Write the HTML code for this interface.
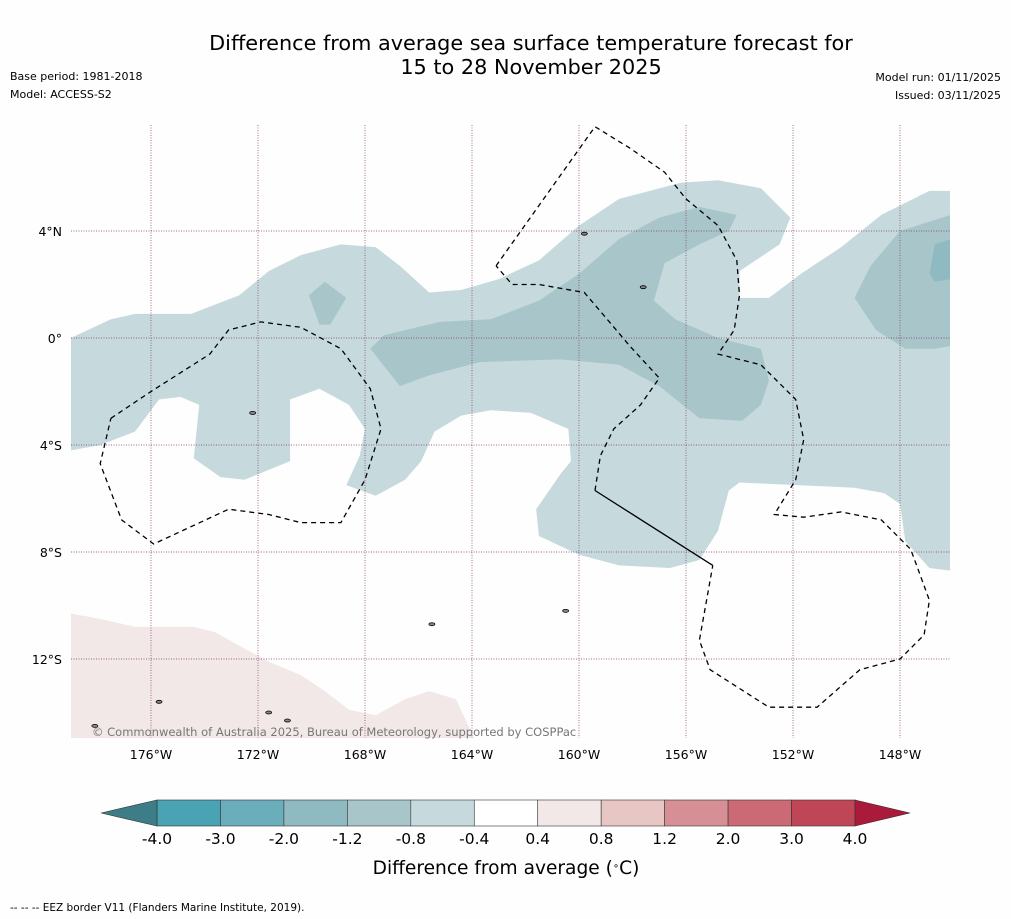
<!DOCTYPE html>
<html><head><meta charset="utf-8"><style>
body{margin:0;background:#fefefe;font-family:"DejaVu Sans",sans-serif;}
svg{display:block}
</style></head><body>
<svg id="chart" width="1011" height="919" font-family="DejaVu Sans, sans-serif">
<rect width="1011" height="919" fill="#fefefe"/>
<text x="531" y="50" font-size="20.8" text-anchor="middle">Difference from average sea surface temperature forecast for</text>
<text x="531" y="74" font-size="20.8" text-anchor="middle">15 to 28 November 2025</text>
<text x="10" y="80" font-size="11">Base period: 1981-2018</text>
<text x="10" y="98" font-size="11">Model: ACCESS-S2</text>
<text x="1001" y="81" font-size="11" text-anchor="end">Model run: 01/11/2025</text>
<text x="1001" y="99" font-size="11" text-anchor="end">Issued: 03/11/2025</text>
<g id="map"></g>
<g id="cbar"></g>
<text x="506" y="874" font-size="18.6" text-anchor="middle">Difference from average (<tspan baseline-shift="super" font-size="10">∘</tspan>C)</text>
<text x="10" y="911" font-size="10.5">--  --  -- EEZ border V11 (Flanders Marine Institute, 2019).</text>
</svg>
<script>
const lonTicks=[-176,-172,-168,-164,-160,-156,-152,-148];
const latTicks=[4,0,-4,-8,-12];
const levels=[-4.0,-3.0,-2.0,-1.2,-0.8,-0.4,0.4,0.8,1.2,2.0,3.0,4.0];
const levelColors=["#4aa3b3","#6aaebb","#8fbac2","#a8c6ca","#c6dadd","#ffffff","#f3e8e8","#e8c6c3","#d68f95","#cb6a75","#bf4657"];
const extendColors=["#3c7d87","#ab1a3b"];
const shapeLight=[[-179,0],[-177.5,0.7],[-176.6,0.9],[-174.5,0.9],[-172.7,1.6],[-171.6,2.5],[-170.4,3.1],[-168.9,3.5],[-167.6,3.4],[-166.7,2.7],[-165.6,1.7],[-164.4,1.8],[-163,2.2],[-161.5,2.9],[-160,4.2],[-158.5,5.2],[-156.2,5.8],[-154.8,5.9],[-153.2,5.6],[-152.1,4.5],[-152.5,3.5],[-154,2.5],[-154,1.5],[-152.9,1.5],[-151.7,2.4],[-150.2,3.4],[-148.7,4.6],[-146.9,5.5],[-146.1,5.5],[-146.1,-8.7],[-146.9,-8.6],[-147.8,-7.6],[-148,-6.2],[-148.6,-5.8],[-149.7,-5.6],[-154,-5.4],[-154.4,-5.7],[-154.8,-7.2],[-155.5,-8.3],[-156.6,-8.6],[-158.5,-8.5],[-160,-8.1],[-161.5,-7.4],[-161.6,-6.4],[-160.7,-5.1],[-160.3,-4.6],[-160.4,-3.4],[-161.8,-2.8],[-163.3,-2.7],[-164.4,-2.9],[-165.4,-3.5],[-165.9,-4.6],[-166.5,-5.3],[-167.6,-5.9],[-168.7,-5.5],[-168.2,-4.4],[-168,-3.4],[-168.6,-2.5],[-169.7,-1.9],[-170.8,-2.3],[-170.8,-4.6],[-172.5,-5.3],[-173.4,-5.2],[-174.4,-4.5],[-174.2,-2.5],[-174.9,-2.2],[-175.7,-2.3],[-176.6,-3.5],[-177.9,-4.0],[-179,-4.2]];
const shapeMid=[[-167.8,-0.4],[-167.3,0.1],[-165.2,0.6],[-163.3,0.7],[-161.5,1.4],[-160,2.4],[-158.5,3.7],[-157,4.5],[-155.5,4.9],[-154.1,4.6],[-154.4,4.0],[-155.5,3.5],[-156.8,2.8],[-157.2,1.4],[-156.4,0.7],[-154.8,0],[-153.2,-0.4],[-152.9,-1.6],[-153.2,-2.5],[-153.9,-3.1],[-155.5,-3.0],[-157,-1.8],[-158.5,-1.0],[-160.7,-0.8],[-163.7,-0.9],[-165.6,-1.4],[-166.7,-1.8]];
const shapeMid2=[[-170.1,1.6],[-169.5,2.1],[-168.7,1.5],[-169.3,0.5],[-169.7,0.5]];
const shapeMid3=[[-149.7,1.5],[-149.1,2.7],[-148,4.0],[-146.1,4.6],[-146.1,-0.3],[-146.7,-0.4],[-147.8,-0.4],[-148.9,0.3]];
const shapeDark=[[-146.9,2.4],[-146.7,3.5],[-146.1,3.7],[-146.1,2.2],[-146.7,2.1]];
const shapePink=[[-179,-10.3],[-177.9,-10.5],[-176.6,-10.8],[-174.4,-10.8],[-173.6,-11.0],[-172.7,-11.5],[-171.6,-12.1],[-170.4,-12.6],[-169.5,-13.2],[-168.6,-13.9],[-167.6,-14.1],[-166.5,-13.5],[-165.6,-13.2],[-164.6,-13.5],[-163.9,-15],[-179,-15]];
const eezLeft=[[-177.5,-3.0],[-176,-2.0],[-173.8,-0.6],[-173.1,0.3],[-171.9,0.6],[-170.4,0.4],[-168.9,-0.4],[-167.8,-1.9],[-167.4,-3.4],[-168,-5.3],[-168.9,-6.9],[-170.4,-6.9],[-171.6,-6.6],[-173.1,-6.4],[-175.9,-7.7],[-177.1,-6.8],[-177.9,-4.7],[-177.5,-3.0]];
const eezBig=[[-163.1,2.7],[-159.4,7.9],[-158.1,7.1],[-156.8,6.2],[-156,5.2],[-154.8,4.2],[-154.1,2.9],[-154,1.6],[-154.2,0.3],[-154.8,-0.6],[-153.2,-1.0],[-151.9,-2.3],[-151.6,-3.8],[-151.9,-5.3],[-152.7,-6.6],[-151.6,-6.7],[-150.2,-6.5],[-148.7,-6.8],[-147.6,-7.9],[-146.9,-9.8],[-147.1,-11.1],[-148,-12.0],[-149.5,-12.4],[-151.1,-13.8],[-152.9,-13.8],[-155.1,-12.4],[-155.5,-11.3],[-155,-8.5]];
const eezSolid=[[-155,-8.5],[-159.4,-5.7]];
const eezBig2=[[-159.4,-5.7],[-159.2,-4.4],[-158.7,-3.4],[-157.7,-2.5],[-157,-1.5],[-158.1,-0.3],[-159.2,1.0],[-159.8,1.7],[-161.5,2.0],[-162.5,2.0],[-163.1,2.7]];
const islands=[[-171.6,-14.0],[-170.9,-14.3],[-175.7,-13.6],[-178.1,-14.5],[-172.2,-2.8],[-157.6,1.9],[-159.8,3.9],[-160.5,-10.2],[-165.5,-10.7]];

const NS="http://www.w3.org/2000/svg";
const x0=151,kx=26.75,y0=338;
const X=lon=>x0+(lon+176)*kx;
const Y=lat=>y0-lat*kx;
const map=document.getElementById('map');
function mk(t,a,p){const e=document.createElementNS(NS,t);for(const k in a)e.setAttribute(k,a[k]);(p||map).appendChild(e);return e;}
const pts=s=>s.map(p=>X(p[0]).toFixed(1)+','+Y(p[1]).toFixed(1)).join(' ');
const defs=mk('defs',{});
const cp=mk('clipPath',{id:'mc'},defs);mk('rect',{x:71,y:125,width:879,height:613},cp);
const g=mk('g',{'clip-path':'url(#mc)'});
function poly(s,fill,name){const e=mk('polygon',{points:pts(s),fill:fill},g);

}
poly(shapeLight,levelColors[4],'anomaly-region-light');
poly(shapeMid,levelColors[3],'anomaly-region-mid');
poly(shapeMid2,levelColors[3],'anomaly-region-mid-small');
poly(shapeMid3,levelColors[3],'anomaly-region-mid-east');
poly(shapeDark,levelColors[2],'anomaly-region-dark');
poly(shapePink,levelColors[6],'anomaly-region-warm');
lonTicks.forEach(l=>{const e=mk('line',{x1:X(l),x2:X(l),y1:125,y2:738,stroke:'#7a3a5a','stroke-width':0.7,'stroke-dasharray':'1,1.5'},g);


const t=mk('text',{x:X(l),y:759,'font-size':12.5,'text-anchor':'middle'});t.textContent=(-l)+'°W';

});
latTicks.forEach(l=>{const e=mk('line',{x1:71,x2:950,y1:Y(l),y2:Y(l),stroke:'#7a3a5a','stroke-width':0.7,'stroke-dasharray':'1,1.5'},g);


const t=mk('text',{x:62,y:Y(l)+5,'font-size':12.5,'text-anchor':'end'});t.textContent=l===0?'0°':Math.abs(l)+'°'+(l>0?'N':'S');

});
function line(s,dash,name){const e=mk('polyline',{points:pts(s),fill:'none',stroke:'#000','stroke-width':1.3,'stroke-dasharray':dash},g);

}
line(eezLeft,'5,4','eez-border-west');
line(eezBig,'5,4','eez-border-central');
line(eezSolid,'none','eez-border-solid');
line(eezBig2,'5,4','eez-border-central-west');
islands.forEach(p=>{const e=mk('ellipse',{cx:X(p[0]),cy:Y(p[1]),rx:3,ry:1.5,fill:'#888',stroke:'#000','stroke-width':0.8},g);

});
const cr=mk('text',{x:92,y:736,'font-size':11.5,fill:'#777'});cr.textContent='© Commonwealth of Australia 2025, Bureau of Meteorology, supported by COSPPac';


const cb=document.getElementById('cbar');
const cx0=157,cx1=855,cy=800,ch=26;
const step=(cx1-cx0)/(levels.length-1);
const CX=i=>cx0+i*step;
for(let i=0;i<levelColors.length;i++){const r=mk('rect',{x:CX(i),y:cy,width:step,height:ch,fill:levelColors[i],stroke:'#333','stroke-width':0.6},cb);

}
const l1=mk('polygon',{points:`${cx0},${cy} ${cx0},${cy+ch} 101,${cy+ch/2}`,fill:extendColors[0],stroke:'#333','stroke-width':0.6},cb);


const l2=mk('polygon',{points:`${cx1},${cy} ${cx1},${cy+ch} 910,${cy+ch/2}`,fill:extendColors[1],stroke:'#333','stroke-width':0.6},cb);


levels.forEach((v,i)=>{const t=mk('text',{x:CX(i),y:844,'font-size':15.5,'text-anchor':'middle'},cb);t.textContent=v.toFixed(1);

});
</script>
</body></html>
